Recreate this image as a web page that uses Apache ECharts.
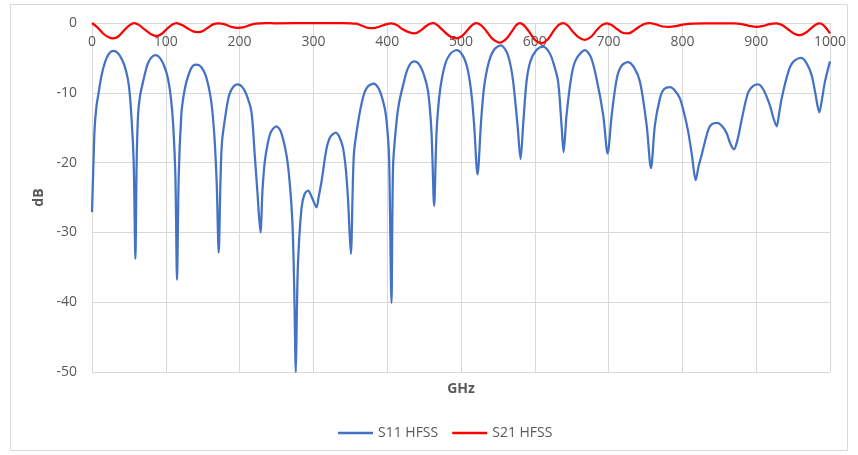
<!DOCTYPE html>
<html>
<head>
<meta charset="utf-8">
<script src="https://cdn.jsdelivr.net/npm/echarts@6/dist/echarts.min.js"></script>
<style>html,body{margin:0;padding:0;background:#fff;}#c{width:858px;height:455px;}</style>
</head>
<body>
<div id="c"></div>
<script>
const seriesNames = ['S11 HFSS', 'S21 HFSS'];
const xRange = [0, 1000, 100];
const yRange = [-50, 0, 10];

const s11 = [[0,-27.1],[2,-20],[3.6,-15],[6,-12],[8.5,-10.3],[13,-7.5],[18,-5.5],[23,-4.4],[28.8,-4.0],[35,-4.3],[41,-5.3],[46,-6.8],[50,-9],[53.3,-13.2],[56.5,-20],[58.8,-33.8],[60.5,-20],[62.4,-13.2],[65,-10.5],[69.2,-8.4],[75,-6],[80,-5],[86,-4.6],[92,-5],[98,-6.2],[103,-8],[107,-10.8],[110,-14.6],[113,-22],[115.2,-36.8],[117.5,-22],[121,-13.2],[124,-10.5],[128,-8.4],[133,-6.8],[137,-6.1],[142.3,-5.95],[148,-6.3],[154,-7.5],[159.5,-9.9],[163,-12.5],[166.3,-17],[169,-23],[171.7,-32.9],[174,-23],[176.2,-17],[182.2,-12.3],[186,-10.3],[191,-9.2],[197.1,-8.8],[203,-9.1],[209,-10.2],[216,-12.7],[220.5,-18.9],[224,-24],[228.3,-30.0],[231,-24],[234.1,-19.9],[238.6,-17],[243,-15.5],[250,-14.8],[256,-15.6],[263.5,-18.9],[268,-23],[271.7,-28.9],[274,-38],[276.2,-50],[277.5,-42],[279.2,-34.2],[283.8,-26.6],[288,-24.5],[292.8,-24.0],[298,-25],[304.2,-26.4],[307,-25],[311,-22.7],[317.8,-18.0],[323,-16.3],[330.4,-15.7],[336,-16.5],[340.3,-18.0],[344,-21],[347.1,-25.6],[350.7,-33.1],[354.8,-18.9],[360.6,-14.2],[367.4,-10.6],[373,-9.2],[381.9,-8.7],[389,-9.5],[396.8,-12.3],[400,-15],[402.6,-19.4],[405.8,-40.1],[408,-20.4],[412.6,-14.2],[416,-11.5],[421.6,-8.9],[428,-6.5],[436,-5.5],[443,-5.9],[450,-7.5],[455.5,-9.9],[460,-15.6],[463.6,-26.2],[466.9,-15.6],[471.3,-9.9],[478.1,-6.05],[485,-4.5],[494,-3.9],[502,-4.6],[508,-6.2],[512,-8.4],[515,-11],[517.8,-14.6],[522.4,-21.7],[526.9,-14.6],[529.5,-11],[532.3,-8.4],[538,-5.5],[545,-3.8],[554,-3.2],[562,-4.2],[567,-6],[570.7,-8.4],[576.6,-14.6],[580.7,-19.5],[584.2,-14.6],[588.8,-8.4],[594,-5.5],[602,-3.9],[611.3,-3.4],[620,-4.3],[626,-6],[631.6,-8.4],[636.2,-14.6],[639,-18.5],[643,-13.2],[649.8,-7.5],[656,-5.2],[668,-3.9],[676,-4.9],[683.7,-8.0],[692.7,-13.2],[698.7,-18.7],[704.2,-13.2],[711,-8.0],[717,-6.2],[725.8,-5.6],[734,-6.3],[742.5,-8.4],[751.5,-14.6],[757.4,-20.8],[762.8,-14.6],[769.6,-10.8],[775,-9.5],[783.1,-9.2],[790,-9.7],[796.6,-10.8],[802,-12.8],[807.9,-15.6],[813,-19],[818,-22.5],[822,-20.5],[826.1,-18.9],[835,-15.3],[840,-14.5],[847.3,-14.3],[854,-14.8],[860,-15.8],[865,-17.3],[869.9,-18.1],[874,-17],[878,-15.1],[882.6,-12.7],[889.3,-9.9],[896,-9],[902.8,-8.8],[910,-9.6],[918.6,-11.8],[923,-13.5],[927.7,-14.8],[931,-13],[934.5,-10.8],[943.5,-7.0],[950,-5.6],[960.3,-5.0],[968,-5.7],[975.2,-7.5],[980,-10],[985.5,-12.8],[989,-11],[993.2,-8.4],[1000,-5.5]];

const s21 = [[0,0],[7,-0.6],[15,-1.5],[22,-2.0],[28.8,-2.2],[36,-1.9],[44,-1.0],[51,-0.3],[57.3,0],[64,-0.3],[72,-1.0],[80,-1.6],[87.7,-1.85],[95,-1.5],[103,-0.7],[109,-0.2],[114.7,0],[122,-0.3],[130,-0.8],[137,-1.2],[143.9,-1.3],[151,-1.1],[158,-0.6],[164,-0.2],[171,-0.05],[180,-0.2],[190,-0.6],[198,-0.7],[206,-0.6],[214,-0.3],[222,-0.1],[235,0],[250,-0.05],[300,0],[340,0],[358,-0.1],[366,-0.4],[374,-0.7],[381,-0.75],[390,-0.5],[398,-0.2],[406,-0.05],[413,-0.3],[421,-0.9],[429,-1.3],[437.5,-1.5],[445,-1.1],[452,-0.5],[458,-0.1],[462.6,0],[468,-0.3],[476,-1.1],[485,-1.9],[494,-2.2],[502,-1.8],[509,-1.0],[515,-0.3],[521,0],[527,-0.3],[534,-1.1],[542,-2.2],[552.7,-2.8],[562,-2.2],[569,-1.2],[575,-0.3],[579.7,0],[585,-0.3],[592,-1.2],[600,-2.4],[609,-2.9],[618,-2.3],[625,-1.2],[632,-0.3],[638.6,0],[645,-0.4],[652,-1.3],[660,-2.1],[667.8,-2.4],[676,-2.0],[684,-1.0],[691,-0.3],[697.5,-0.05],[704,-0.3],[712,-0.9],[719,-1.4],[726.6,-1.5],[734,-1.1],[742,-0.5],[749,-0.1],[756,0],[764,-0.2],[773,-0.5],[783,-0.55],[793,-0.4],[803,-0.2],[815,-0.1],[830,-0.05],[850,-0.05],[870,-0.05],[880,-0.15],[890,-0.4],[900.6,-0.55],[910,-0.4],[918,-0.15],[927.7,-0.05],[935,-0.3],[943,-0.9],[951,-1.5],[959,-1.75],[967,-1.4],[975,-0.7],[981,-0.2],[986,-0.05],[991,-0.3],[996,-0.9],[1000,-1.5]];

const FONT = 'Open Sans';
const TXT = '#595959';
const GRID = '#d9d9d9';

const chart = echarts.init(document.getElementById('c'), null, {renderer: 'canvas'});
chart.setOption({
  animation: false,
  backgroundColor: '#fff',
  textStyle: {fontFamily: FONT},
  graphic: [{
    type: 'rect', shape: {x: 10.5, y: 4.5, width: 837, height: 446},
    style: {fill: 'none', stroke: GRID, lineWidth: 1}, silent: true, z: -10
  }],
  grid: {left: 92, right: 28, top: 23, bottom: 83, containLabel: false},
  legend: {
    data: seriesNames, bottom: 10, left: 333, icon: 'rect',
    itemWidth: 35, itemHeight: 2.5, itemGap: 14,
    textStyle: {color: TXT, fontSize: 14, fontFamily: FONT}
  },
  xAxis: [{
    type: 'value', min: xRange[0], max: xRange[1], interval: xRange[2],
    position: 'top',
    axisLine: {show: true, onZero: false, lineStyle: {color: GRID}},
    axisTick: {show: false},
    axisLabel: {inside: true, color: TXT, fontSize: 14, margin: 12, fontFamily: FONT,
      formatter: v => String(v)},
    splitLine: {show: true, lineStyle: {color: GRID, width: 1}}
  }, {
    type: 'value', min: xRange[0], max: xRange[1], position: 'bottom',
    axisLine: {show: false, onZero: false}, axisTick: {show: false}, axisLabel: {show: false},
    splitLine: {show: false},
    name: 'GHz', nameLocation: 'middle', nameGap: 10,
    nameTextStyle: {color: TXT, fontSize: 14, fontWeight: 'bold', fontFamily: FONT}
  }],
  yAxis: {
    type: 'value', min: yRange[0], max: yRange[1], interval: yRange[2],
    axisLine: {show: true, lineStyle: {color: GRID}},
    axisTick: {show: false},
    axisLabel: {color: TXT, fontSize: 14, margin: 15, fontFamily: FONT},
    splitLine: {show: true, lineStyle: {color: GRID, width: 1}},
    name: 'dB', nameLocation: 'middle', nameGap: 42, nameRotate: 90,
    nameTextStyle: {color: TXT, fontSize: 14, fontWeight: 'bold', fontFamily: FONT}
  },
  series: [{
    name: seriesNames[0], type: 'line', data: s11, showSymbol: false,
    smooth: 0.3, clip: true,
    lineStyle: {color: '#4472C4', width: 2.25}, itemStyle: {color: '#4472C4'}
  }, {
    name: seriesNames[1], type: 'line', data: s21, showSymbol: false,
    smooth: 0.3, clip: false,
    lineStyle: {color: '#FF0000', width: 2.25}, itemStyle: {color: '#FF0000'}
  }]
});
</script>
</body>
</html>
